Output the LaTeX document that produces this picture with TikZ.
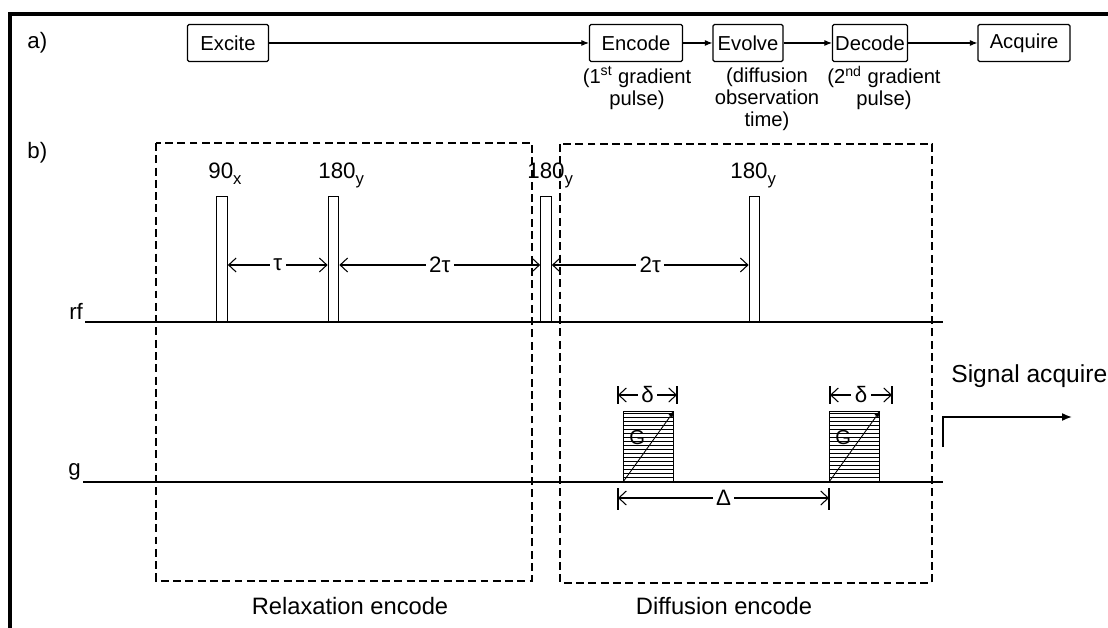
\documentclass[tikz,border=0pt]{standalone}
\usepackage{fontspec}
\setmainfont{Liberation Sans}
\usetikzlibrary{arrows.meta,positioning}

\newcommand{\lblsize}{\fontsize{12.7}{14}\selectfont}
\newcommand{\boxsize}{\fontsize{11.5}{12.5}\selectfont}
\newcommand{\capsize}{\fontsize{13.5}{15}\selectfont}
\newcommand{\pulsesub}[1]{\raisebox{-0.45ex}{\fontsize{9.5}{10}\selectfont #1}}

\tikzset{
  stagebox/.style={draw, line width=0.7pt, rounded corners=0.8pt, minimum height=0.74cm, inner sep=0pt, font=\boxsize},
  stagenote/.style={align=center, font=\boxsize, inner sep=0pt},
  flowarrow/.style={-{Latex[length=1.5mm,width=1.2mm]}, line width=0.6pt},
  timearrow/.style={{Straight Barb[length=1.5mm,width=2.8mm]}-{Straight Barb[length=1.5mm,width=2.8mm]}, line width=0.6pt},
  gaplabel/.style={fill=white, inner xsep=2pt, inner ysep=0pt, font=\lblsize},
  encodebox/.style={dash pattern=on 4.5pt off 2.5pt, line width=0.7pt},
  axisline/.style={line width=1.3pt},
  rfpulse/.style={draw, line width=0.7pt, fill=white, inner sep=0pt, minimum width=0.21cm, minimum height=2.5cm, anchor=south},
  gradlobe/.style={draw, line width=0.7pt, inner sep=0pt, minimum width=1.0cm, minimum height=1.4cm, anchor=south west,
    path picture={\foreach \k in {1,...,17}
      \draw[line width=0.35pt] ([yshift=\k*0.08cm]path picture bounding box.south west) -- ([yshift=\k*0.08cm]path picture bounding box.south east);}},
}

\begin{document}
\begin{tikzpicture}[x=0.02cm, y=-0.02cm]
  \useasboundingbox (0,0) rectangle (1108,628);
  % scanned frame
  \draw[line width=2.4pt] (10,628) -- (10,14) -- (1108,14);
  \node[anchor=base west, inner sep=0pt, font=\lblsize] (parta) at (27,49) {a)};
  \node[anchor=base west, inner sep=0pt, font=\lblsize] (partb) at (27,159) {b)};

  % a) stages of the experiment
  \node[stagebox, minimum width=1.62cm] (excite) at (228,43) {Excite};
  \node[stagebox, minimum width=1.86cm] (encode) at (636,43) {Encode};
  \node[stagebox, minimum width=1.40cm] (evolve) at (748,43) {Evolve};
  \node[stagebox, minimum width=1.50cm] (decode) at (870,43) {Decode};
  \node[stagebox, minimum width=1.84cm] (acquire) at (1024,43) {Acquire};
  \draw[flowarrow] (excite) -- (encode);
  \draw[flowarrow] (encode) -- (evolve);
  \draw[flowarrow] (evolve) -- (decode);
  \draw[flowarrow] (decode) -- (acquire);
  \node[stagenote] (encnote) at (637,88) {(1\textsuperscript{st} gradient\\pulse)};
  \node[stagenote] (evonote) at (767,99) {(diffusion\\observation\\time)};
  \node[stagenote] (decnote) at (884,88) {(2\textsuperscript{nd} gradient\\pulse)};

  % b) encode windows
  \draw[encodebox] (156,143) rectangle (532,581);
  \draw[encodebox] (560,144) rectangle (932,583);
  \node[font=\capsize] (relaxlab) at (350,606) {Relaxation encode};
  \node[font=\capsize] (difflab) at (724,606) {Diffusion encode};

  % rf pulses
  \foreach \n/\px/\lx/\deg/\sb in {1/222/208/90/x, 2/333.5/318/180/y, 3/546/527/180/y, 4/754.5/730/180/y} {
    \node[rfpulse] (p\n) at (\px,322) {};
    \node[anchor=base west, inner sep=0pt, font=\lblsize] (p\n lab) at (\lx,179) {\deg\pulsesub{\sb}};
  }
  \coordinate (rfstart) at (85,322);
  \coordinate (rfend) at (943,322);
  \draw[axisline] (rfstart) -- (rfend);
  \node[anchor=south east, inner sep=1pt, font=\lblsize] (rflab) at (rfstart) {rf};

  \coordinate (arrowrow) at (0,265);
  \draw[timearrow] (p1.east |- arrowrow) -- node[gaplabel] {τ} (p2.west |- arrowrow);
  \draw[timearrow] (p2.east |- arrowrow) -- node[gaplabel] {2τ} (p3.west |- arrowrow);
  \draw[timearrow] (p3.east |- arrowrow) -- node[gaplabel] {2τ} (p4.west |- arrowrow);

  % gradient pulses
  \foreach \n/\gx/\dl/\dr in {1/623/618/677, 2/829/830/892} {
    \node[gradlobe] (g\n) at (\gx,482) {};
    \draw[-{Latex[length=1.3mm,width=1mm]}, line width=0.5pt] (g\n.south west) -- (g\n.north east);
    \node[anchor=west, inner sep=0pt, font=\fontsize{11.5}{12}\selectfont] (G\n) at (\gx+6,438) {G};
    \coordinate (d\n l) at (\dl,395);
    \coordinate (d\n r) at (\dr,395);
    \draw[line width=0.6pt] (\dl,386) -- (\dl,404) (\dr,386) -- (\dr,404);
    \draw[timearrow] (d\n l) -- node[gaplabel] {δ} (d\n r);
  }
  \coordinate (gstart) at (83,482);
  \coordinate (gend) at (943,482);
  \draw[axisline] (gstart) -- (gend);
  \node[anchor=south east, inner sep=1pt, font=\lblsize] (glab) at (gstart) {g};

  \coordinate (bigdl) at (618,498);
  \coordinate (bigdr) at (829,498);
  \draw[line width=0.6pt] (618,488) -- (618,510) (829,488) -- (829,510);
  \draw[timearrow] (bigdl) -- node[gaplabel] {Δ} (bigdr);

  % acquisition
  \node[anchor=base west, inner sep=0pt, font=\fontsize{14}{16}\selectfont] (siglab) at (951,382) {Signal acquire};
  \coordinate (sigfoot) at (943,447);
  \coordinate (sigcorner) at (943,417);
  \coordinate (sigtip) at (1072,417);
  \draw[line width=0.9pt, -{Latex[length=2mm,width=1.6mm]}] (sigfoot) -- (sigcorner) -- (sigtip);
\end{tikzpicture}
\end{document}
